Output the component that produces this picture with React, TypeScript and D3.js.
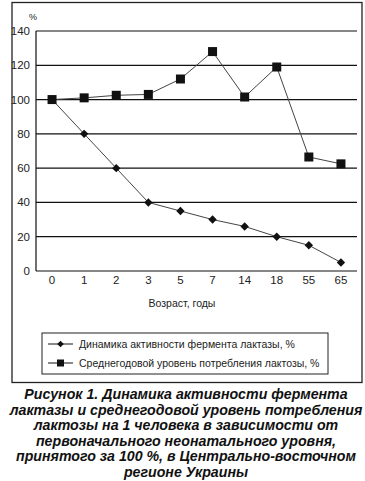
import React from "react";
import * as d3 from "d3";

const categories = ["0", "1", "2", "3", "5", "7", "14", "18", "55", "65"];
const lactase = [100, 80, 60, 40, 35, 30, 26, 20, 15, 5];
const consumption = [100, 101, 102.5, 103, 112, 128, 101.5, 119, 66.5, 62.5];
const yTicks = [0, 20, 40, 60, 80, 100, 120, 140];
const legendLabels = [
  "Динамика активности фермента лактазы, %",
  "Среднегодовой уровень потребления лактозы, %",
];
const captionLines = [
  "Рисунок 1. Динамика активности фермента",
  "лактазы и среднегодовой уровень потребления",
  "лактозы на 1 человека в зависимости от",
  "первоначального неонатального уровня,",
  "принятого за 100 %, в Центрально-восточном",
  "регионе Украины",
];

const W = 365;
const H = 481;
const plot = { left: 36, right: 357, top: 31, bottom: 271 };
const font = "'Liberation Sans', Arial, sans-serif";

export default function App() {
  const x = d3
    .scalePoint<string>()
    .domain(categories)
    .range([plot.left, plot.right])
    .padding(0.5);
  const y = d3.scaleLinear().domain([0, 140]).range([plot.bottom, plot.top]);
  const line = d3
    .line<number>()
    .x((_, i) => x(categories[i]) as number)
    .y((d) => y(d));

  const diamond = (cx: number, cy: number, r = 4.2) =>
    `M${cx},${cy - r}L${cx + r},${cy}L${cx},${cy + r}L${cx - r},${cy}Z`;
  const sq = 9;

  return (
    <svg
      width={W}
      height={H}
      style={{ position: "absolute", left: 0, top: 0, background: "#fff" }}
      fontFamily={font}
    >
      {/* outer frame */}
      <rect x={12} y={2.5} width={350} height={380} fill="none" stroke="#222" strokeWidth={1.3} />

      {/* gridlines */}
      {yTicks.map((t) => (
        <line
          key={t}
          x1={plot.left}
          x2={plot.right}
          y1={y(t)}
          y2={y(t)}
          stroke="#111"
          strokeWidth={1.2}
        />
      ))}
      <line x1={plot.left} x2={plot.left} y1={plot.top} y2={plot.bottom} stroke="#111" strokeWidth={1.2} />

      {/* y tick labels */}
      {yTicks.map((t) => (
        <text key={t} x={30} y={y(t)} dy="0.35em" textAnchor="end" fontSize={11.5} fill="#222">
          {t}
        </text>
      ))}
      <text x={33} y={20} fontSize={9} fill="#222" textAnchor="middle">%</text>

      {/* x tick labels */}
      {categories.map((c) => (
        <text key={c} x={x(c)} y={280} dy="0.35em" textAnchor="middle" fontSize={11.5} fill="#222">
          {c}
        </text>
      ))}
      <text x={182} y={303} dy="0.35em" textAnchor="middle" fontSize={10.5} fill="#222">
        Возраст, годы
      </text>

      {/* series */}
      <path d={line(consumption) || ""} fill="none" stroke="#444" strokeWidth={1} />
      <path d={line(lactase) || ""} fill="none" stroke="#444" strokeWidth={1} />
      {lactase.map((v, i) => (
        <path key={"d" + i} d={diamond(x(categories[i]) as number, y(v))} fill="#111" />
      ))}
      {consumption.map((v, i) => (
        <rect
          key={"s" + i}
          x={(x(categories[i]) as number) - sq / 2}
          y={y(v) - sq / 2}
          width={sq}
          height={sq}
          fill="#111"
        />
      ))}

      {/* legend */}
      <rect x={42} y={333} width={286} height={41} fill="none" stroke="#222" strokeWidth={1} />
      {legendLabels.map((l, i) => {
        const ly = 344 + i * 19;
        return (
          <g key={l}>
            <line x1={48} x2={73} y1={ly} y2={ly} stroke="#111" strokeWidth={1} />
            {i === 0 ? (
              <path d={diamond(60.5, ly, 3.3)} fill="#111" />
            ) : (
              <rect x={57} y={ly - 3.5} width={7} height={7} fill="#111" />
            )}
            <text x={79} y={ly} dy="0.35em" fontSize={10.5} fill="#222">
              {l}
            </text>
          </g>
        );
      })}

      {/* caption */}
      {captionLines.map((l, i) => (
        <text
          key={i}
          x={186}
          y={394 + i * 15.6}
          dy="0.35em"
          textAnchor="middle"
          fontSize={14.2}
          fontWeight="bold"
          fontStyle="italic"
          fill="#111"
        >
          {l}
        </text>
      ))}
    </svg>
  );
}
